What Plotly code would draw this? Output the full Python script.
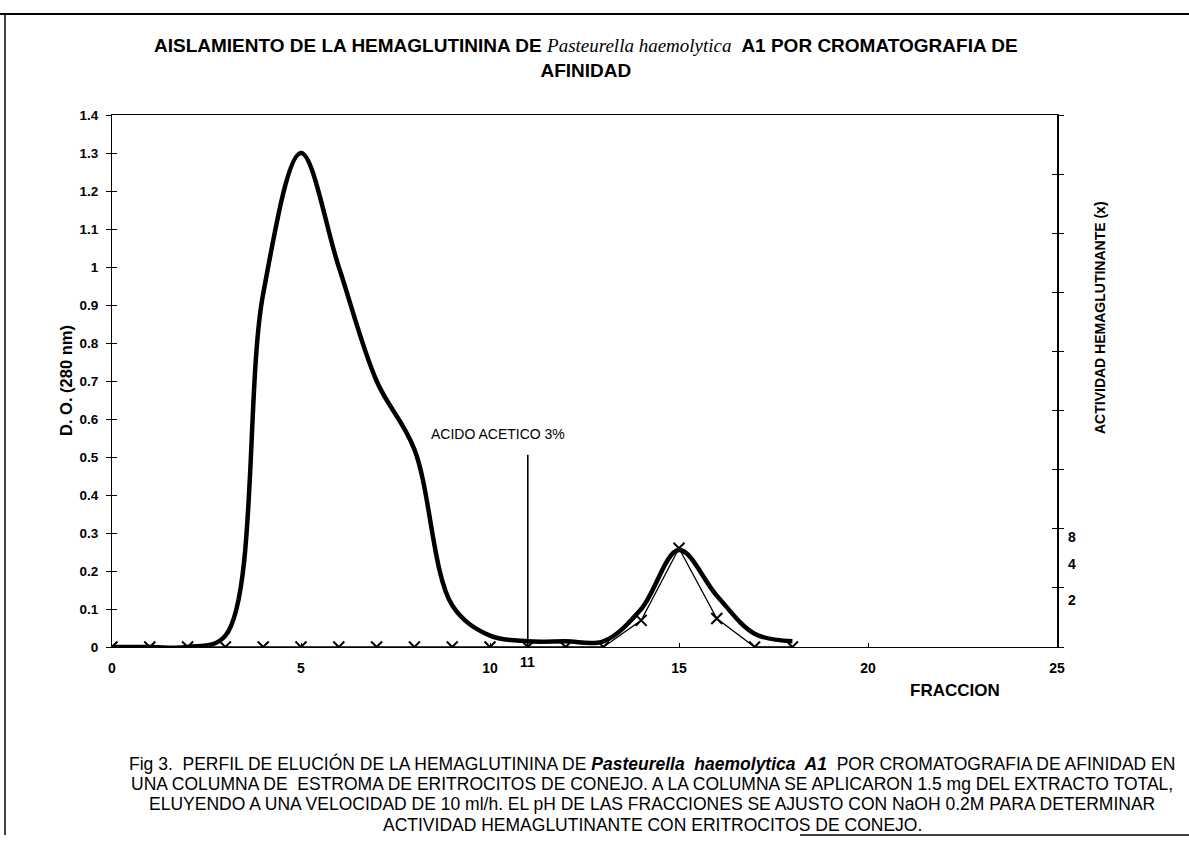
import plotly.graph_objects as go

# ---- data ----
fraccion = list(range(0, 19))
do_280 = [0, 0, 0, 0.03, 0.93, 1.30, 1.00, 0.70, 0.52, 0.11, 0.03, 0.015, 0.015, 0.015, 0.10, 0.255, 0.135, 0.035, 0.015]
actividad = [0, 0, 0, 0, 0, 0, 0, 0, 0, 0, 0, 0, 0, 0, 0.07, 0.26, 0.075, 0, 0]

x_ticks = [0, 5, 10, 15, 20, 25]
y_ticks = [round(i * 0.1, 1) for i in range(15)]
y_tick_text = ["0", "0.1", "0.2", "0.3", "0.4", "0.5", "0.6", "0.7", "0.8", "0.9", "1", "1.1", "1.2", "1.3", "1.4"]
right_ticks = list(range(0, 10))
right_labels = ["8", "4", "2"]
right_label_pos = [1.86, 1.41, 0.80]

acid_x = 11
acid_top = 0.51

FONT = "Liberation Sans, Arial, sans-serif"

fig = go.Figure()

fig.add_trace(go.Scatter(
    x=fraccion, y=do_280, mode="lines",
    line=dict(color="black", width=4.5, shape="spline", smoothing=1.0),
    showlegend=False, hoverinfo="skip"))

fig.add_trace(go.Scatter(
    x=fraccion, y=actividad, mode="lines+markers",
    line=dict(color="black", width=1.3),
    marker=dict(symbol="x-thin", size=11, line=dict(color="black", width=2)),
    showlegend=False, hoverinfo="skip"))

# empty traces so the overlay axes render
fig.add_trace(go.Scatter(x=[None], y=[None], yaxis="y2", showlegend=False, hoverinfo="skip"))
fig.add_trace(go.Scatter(x=[None], y=[None], yaxis="y3", showlegend=False, hoverinfo="skip"))
fig.add_trace(go.Scatter(x=[None], y=[None], yaxis="y4", showlegend=False, hoverinfo="skip"))

L, R, T, B = 112, 132, 115, 216
W, H = 1189, 863
pw = W - L - R
ph = H - T - B

def px(xp):
    return (xp - L) / pw

def py(yp):
    return (H - B - yp) / ph

fig.update_layout(
    width=W, height=H,
    margin=dict(l=L, r=R, t=T, b=B, pad=0),
    paper_bgcolor="white", plot_bgcolor="white",
    font=dict(family=FONT, color="black"),
    xaxis=dict(range=[0, 25], tickvals=x_ticks, ticktext=[str(v) for v in x_ticks],
               ticks="inside", ticklen=4, tickcolor="black",
               showline=True, linecolor="black", linewidth=1.2, mirror=True,
               showgrid=False, zeroline=False,
               tickfont=dict(size=14, family=FONT, weight="bold"), ticklabelstandoff=8),
    yaxis=dict(range=[0, 1.4], tickvals=y_ticks, ticktext=y_tick_text,
               ticks="outside", ticklen=5, tickcolor="black",
               showline=True, linecolor="black", linewidth=1.2,
               showgrid=False, zeroline=False, ticklabelstandoff=5,
               tickfont=dict(size=13.5, family=FONT, weight="bold")),
    yaxis3=dict(range=[0, 1.4], tickvals=y_ticks, ticktext=[""] * len(y_ticks),
                overlaying="y", side="left", ticks="inside", ticklen=5, tickcolor="black",
                showline=False, showgrid=False, zeroline=False),
    yaxis2=dict(range=[0, 9], tickvals=right_ticks, ticktext=[""] * len(right_ticks),
                overlaying="y", side="right", ticks="outside", ticklen=5, tickcolor="black",
                showline=True, linecolor="black", linewidth=1.5,
                showgrid=False, zeroline=False),
    yaxis4=dict(range=[0, 9], tickvals=right_ticks, ticktext=[""] * len(right_ticks),
                overlaying="y", side="right", ticks="inside", ticklen=5, tickcolor="black",
                showline=False, showgrid=False, zeroline=False),
)

ann = []
# title
ann.append(dict(
    text=("<b>AISLAMIENTO DE LA HEMAGLUTININA DE </b>"
          "<i><span style='font-family:Liberation Serif, Times New Roman, serif'>Pasteurella haemolytica</span></i>"
          "<b>  A1 POR CROMATOGRAFIA DE</b><br><b>AFINIDAD</b>"),
    x=px(586), y=py(33), xref="paper", yref="paper", xanchor="center", yanchor="top",
    showarrow=False, font=dict(size=19, family=FONT), align="center"))
# axis titles
ann.append(dict(text="<b>D. O. (280 nm)</b>", x=px(66), y=py(381), xref="paper", yref="paper",
                xanchor="center", yanchor="middle", textangle=-90,
                showarrow=False, font=dict(size=16.5, family=FONT)))
ann.append(dict(text="<b>ACTIVIDAD HEMAGLUTINANTE (x)</b>", x=px(1100), y=py(318), xref="paper", yref="paper",
                xanchor="center", yanchor="middle", textangle=-90,
                showarrow=False, font=dict(size=14, family=FONT)))
ann.append(dict(text="<b>FRACCION</b>", x=px(955), y=py(690), xref="paper", yref="paper",
                xanchor="center", yanchor="middle",
                showarrow=False, font=dict(size=17, family=FONT)))
# acid annotation
ann.append(dict(text="ACIDO ACETICO 3%", x=10.2, y=0.56, xref="x", yref="y",
                xanchor="center", yanchor="middle",
                showarrow=False, font=dict(size=14, family=FONT)))
ann.append(dict(text="", x=acid_x, y=0, ax=acid_x, ay=acid_top, xref="x", yref="y",
                axref="x", ayref="y", showarrow=True, arrowhead=0, arrowwidth=1.6, arrowcolor="black"))
ann.append(dict(text="<b>11</b>", x=acid_x, y=0, xref="x", yref="y", xanchor="center", yanchor="top",
                yshift=-5, showarrow=False, font=dict(size=14, family=FONT)))
# right axis labels
for lab, pos in zip(right_labels, right_label_pos):
    ann.append(dict(text="<b>%s</b>" % lab, x=1, y=pos, xref="paper", yref="y2", xanchor="left",
                    yanchor="middle", xshift=9, showarrow=False, font=dict(size=14, family=FONT)))
# caption
caption = [
    "Fig 3.  PERFIL DE ELUCIÓN DE LA HEMAGLUTININA DE <b><i>Pasteurella  haemolytica  A1</i></b>  POR CROMATOGRAFIA DE AFINIDAD EN",
    "UNA COLUMNA DE  ESTROMA DE ERITROCITOS DE CONEJO. A LA COLUMNA SE APLICARON 1.5 mg DEL EXTRACTO TOTAL,",
    "ELUYENDO A UNA VELOCIDAD DE 10 ml/h. EL pH DE LAS FRACCIONES SE AJUSTO CON NaOH 0.2M PARA DETERMINAR",
    "ACTIVIDAD HEMAGLUTINANTE CON ERITROCITOS DE CONEJO.",
]
cap_y = [763, 784, 804, 825]
for line, yy in zip(caption, cap_y):
    ann.append(dict(text=line, x=px(652), y=py(yy), xref="paper", yref="paper",
                    xanchor="center", yanchor="middle",
                    showarrow=False, font=dict(size=17.5, family=FONT)))
fig.update_layout(annotations=ann)

# page frame
shapes = [
    dict(type="line", xref="paper", yref="paper", x0=px(0), x1=px(1189), y0=py(14), y1=py(14),
         line=dict(color="black", width=2), layer="above"),
    dict(type="line", xref="paper", yref="paper", x0=px(5), x1=px(5), y0=py(14), y1=py(835),
         line=dict(color="black", width=1.5), layer="above"),
    dict(type="line", xref="paper", yref="paper", x0=px(800), x1=px(1189), y0=py(835), y1=py(835),
         line=dict(color="black", width=1.5), layer="above"),
]
fig.update_layout(shapes=shapes)

fig.write_html("out.html", config={"displayModeBar": False},
               post_script="document.body.style.margin='0';document.body.style.overflow='hidden';")
